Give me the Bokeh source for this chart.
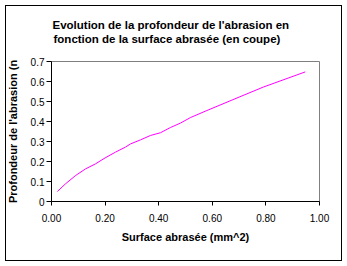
from bokeh.plotting import figure
from bokeh.models import Title, Range1d, FixedTicker, CustomJSTickFormatter
from bokeh.embed import file_html
from bokeh.resources import INLINE

# Data
surface = [0.022, 0.052, 0.09, 0.127, 0.164, 0.20, 0.239, 0.276, 0.295, 0.332, 0.369,
           0.407, 0.444, 0.481, 0.519, 0.58, 0.70, 0.79, 0.947]
profondeur = [0.05, 0.088, 0.13, 0.163, 0.188, 0.218, 0.247, 0.272, 0.288, 0.308, 0.33,
              0.344, 0.37, 0.392, 0.42, 0.455, 0.522, 0.572, 0.648]
x_ticks = [0.0, 0.2, 0.4, 0.6, 0.8, 1.0]
y_ticks = [0, 0.1, 0.2, 0.3, 0.4, 0.5, 0.6, 0.7]
title_lines = ["Evolution de la profondeur de l'abrasion en", "fonction de la surface abrasée (en coupe)"]
x_title = "Surface abrasée (mm^2)"
y_title = "Profondeur de l'abrasion (n"

FONT = "Liberation Sans"

p = figure(width=347, height=266, output_backend="svg", toolbar_location=None,
           x_range=Range1d(0, 1), y_range=Range1d(0, 0.7),
           min_border_left=51, min_border_right=28, min_border_top=61, min_border_bottom=65)
p.background_fill_color = "white"
p.border_fill_color = None
p.outline_line_color = "#808080"
p.outline_line_width = 1
p.xgrid.visible = False
p.ygrid.visible = False
p.styles = {"background-color": "white",
            "box-shadow": "inset 0 0 0 5px white, inset 0 0 0 6px black"}

p.line(surface, profondeur, line_color="#FF00FF", line_width=1)

for ax in (p.xaxis[0], p.yaxis[0]):
    ax.axis_line_color = "black"
    ax.major_tick_line_color = "black"
    ax.minor_tick_line_color = None
    ax.major_tick_in = 0
    ax.major_label_text_font = FONT
    ax.major_label_text_font_size = "10px"
    ax.major_label_text_color = "black"
    ax.axis_label_text_font = FONT
    ax.axis_label_text_font_style = "bold"
    ax.axis_label_text_font_size = "11px"
    ax.axis_label_text_color = "black"

p.xaxis.ticker = FixedTicker(ticks=x_ticks)
p.xaxis.formatter = CustomJSTickFormatter(code="return tick.toFixed(2);")
p.xaxis.major_tick_out = 4
p.xaxis.major_label_standoff = 8
p.xaxis.axis_label = x_title
p.xaxis.axis_label_standoff = 6

p.yaxis.ticker = FixedTicker(ticks=y_ticks)
p.yaxis.formatter = CustomJSTickFormatter(code="return tick == 0 ? '0' : tick.toFixed(1);")
p.yaxis.major_tick_out = 5
p.yaxis.major_label_standoff = 2
p.yaxis.axis_label = y_title
p.yaxis.axis_label_standoff = 9

# spacer between title and plot frame
p.add_layout(Title(text=" ", text_font_size="13px", standoff=0, text_line_height=1.0), "above")
offsets = [1, 2]
for i in (1, 0):
    t = Title(text=title_lines[i], align="left", offset=offsets[i], text_font=FONT,
              text_font_size="11.5px", text_font_style="bold", text_color="black",
              standoff=0, text_line_height=0.85)
    p.add_layout(t, "above")

open("out.html", "w").write(file_html(p, INLINE))
